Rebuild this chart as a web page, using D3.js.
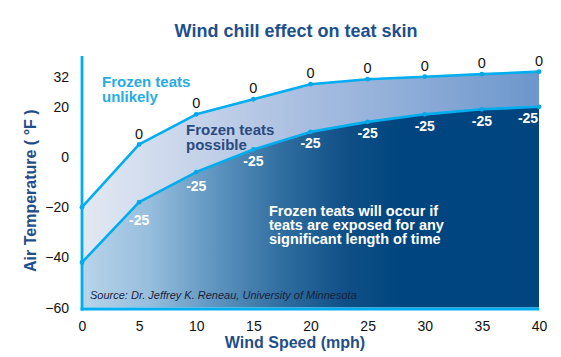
<!DOCTYPE html>
<html>
<head>
<meta charset="utf-8">
<script src="https://cdn.jsdelivr.net/npm/d3@7"></script>
<style>
  html, body { margin: 0; padding: 0; background: #fff; }
  svg { display: block; font-family: "Liberation Sans", Arial, Helvetica, sans-serif; }
</style>
</head>
<body>
<svg id="chart" width="561" height="357"></svg>
<script>
// ---- data ----
const windSpeed = [0, 5, 10, 15, 20, 25, 30, 35, 40];          // mph
const tempChill0 = [-20, 5, 17, 23, 29, 31, 32, 33, 34];       // air temp (°F) giving 0°F wind chill
const tempChill25 = [-42, -18, -6, 3, 10, 14, 17, 19, 20];     // air temp (°F) giving -25°F wind chill
const chillLabels = ["0", "-25"];
const xTicks = [0, 5, 10, 15, 20, 25, 30, 35, 40];
const yTicks = [32, 20, 0, -20, -40, -60];
const titleText = "Wind chill effect on teat skin";
const xTitle = "Wind Speed (mph)";
const yTitle = "Air Temperature ( °F )";
const zoneUnlikely = ["Frozen teats", "unlikely"];
const zonePossible = ["Frozen teats", "possible"];
const zoneOccur = ["Frozen teats will occur if", "teats are exposed for any", "significant length of time"];
const sourceText = "Source: Dr. Jeffrey K. Reneau, University of Minnesota";

// ---- layout ----
const svg = d3.select("#chart");
const x = d3.scaleLinear().domain([0, 40]).range([82, 539]);
const y = d3.scaleLinear().domain([-60, 40]).range([307.6, 56.6]);
const cyan = "#00aeef";

const data = windSpeed.map((w, i) => ({ w, hi: tempChill0[i], lo: tempChill25[i], i }));

// gradients
const defs = svg.append("defs");
const gLow = defs.append("linearGradient").attr("id", "gLow")
  .attr("gradientUnits", "userSpaceOnUse")
  .attr("x1", x(0)).attr("x2", x(40)).attr("y1", 0).attr("y2", 0);
[[0, "#b8d5ea"], [0.04, "#afcee6"], [0.147, "#97bedd"], [0.29, "#5f95c0"],
 [0.44, "#2f6d9f"], [0.58, "#0f4f86"], [0.70, "#00457f"], [1, "#00457f"]]
  .forEach(([o, c]) => gLow.append("stop").attr("offset", o).attr("stop-color", c));
const gBand = defs.append("linearGradient").attr("id", "gBand")
  .attr("gradientUnits", "userSpaceOnUse")
  .attr("x1", x(0)).attr("x2", x(40)).attr("y1", 0).attr("y2", 0);
[[0, "#e3e9f3"], [0.5, "#a7bde0"], [1, "#6c97cc"]]
  .forEach(([o, c]) => gBand.append("stop").attr("offset", o).attr("stop-color", c));

// areas
svg.append("path").datum(data)
  .attr("fill", "url(#gLow)")
  .attr("d", d3.area().x(d => x(d.w)).y0(y(-60)).y1(d => y(d.lo)));
svg.append("path").datum(data)
  .attr("fill", "url(#gBand)")
  .attr("d", d3.area().x(d => x(d.w)).y0(d => y(d.lo)).y1(d => y(d.hi)));

// lines
const lineHi = d3.line().x(d => x(d.w)).y(d => y(d.hi));
const lineLo = d3.line().x(d => x(d.w)).y(d => y(d.lo));
svg.append("path").datum(data).attr("fill", "none").attr("stroke", cyan)
  .attr("stroke-width", 2.6).attr("stroke-linejoin", "round").attr("d", lineHi);
svg.append("path").datum(data).attr("fill", "none").attr("stroke", cyan)
  .attr("stroke-width", 2.6).attr("stroke-linejoin", "round").attr("d", lineLo);

// points
svg.selectAll("circle.hi").data(data).join("circle")
  .attr("cx", d => x(d.w)).attr("cy", d => y(d.hi)).attr("r", 2.4).attr("fill", "#0aa6e6");
svg.selectAll("circle.lo").data(data, d => "lo" + d.i).enter().append("circle")
  .attr("cx", d => x(d.w)).attr("cy", d => y(d.lo)).attr("r", 2.4).attr("fill", "#0aa6e6");

// axes lines
svg.append("line").attr("x1", x(0)).attr("x2", x(0)).attr("y1", y(40) - 0.6).attr("y2", y(-60) + 2.9)
  .attr("stroke", cyan).attr("stroke-width", 2.8);
svg.append("line").attr("x1", x(0) - 1.4).attr("x2", x(40)).attr("y1", y(-60) + 1.4).attr("y2", y(-60) + 1.4)
  .attr("stroke", cyan).attr("stroke-width", 3);

// point labels
const labelData = data.filter(d => d.w > 0);
svg.selectAll("text.hiLab").data(labelData).join("text")
  .attr("x", d => x(d.w)).attr("y", d => y(d.hi) - 11).attr("dy", "0.35em")
  .attr("text-anchor", "middle").attr("font-size", 14.5).attr("fill", "#111")
  .text(chillLabels[0]);
const loOff = i => (i === 1 ? 18 : i === 2 ? 14 : 11.5);
svg.selectAll("text.loLab").data(labelData, d => "lo" + d.i).enter().append("text")
  .attr("x", d => x(d.w) - (d.i === windSpeed.length - 1 ? 11 : 0))
  .attr("y", d => y(d.lo) + loOff(d.i)).attr("dy", "0.35em")
  .attr("text-anchor", "middle").attr("font-size", 14).attr("font-weight", "bold").attr("fill", "#fff")
  .text(chillLabels[1]);

// tick axes
const yAxis = svg.append("g").attr("transform", `translate(${x(0)},0)`)
  .call(d3.axisLeft(y).tickValues(yTicks).tickSize(0).tickPadding(13).tickFormat(d3.format("d")));
yAxis.select(".domain").remove();
yAxis.selectAll("text").attr("font-size", 14).attr("fill", "#111")
  .attr("font-family", "Liberation Sans, Arial, sans-serif");
const xAxis = svg.append("g").attr("transform", `translate(0,${y(-60) + 1.4})`)
  .call(d3.axisBottom(x).tickValues(xTicks).tickSize(0).tickPadding(12).tickFormat(d3.format("d")));
xAxis.select(".domain").remove();
xAxis.selectAll("text").attr("font-size", 14).attr("fill", "#111")
  .attr("font-family", "Liberation Sans, Arial, sans-serif");

// titles
svg.append("text").attr("x", 296).attr("y", 37).attr("text-anchor", "middle")
  .attr("font-size", 18).attr("font-weight", "bold").attr("fill", "#1d4f8e").text(titleText);
svg.append("text").attr("x", 295).attr("y", 348).attr("text-anchor", "middle")
  .attr("font-size", 16).attr("font-weight", "bold").attr("fill", "#1f4e89").text(xTitle);
svg.append("text").attr("transform", "translate(36,190.7) rotate(-90)").attr("text-anchor", "middle")
  .attr("font-size", 16).attr("font-weight", "bold").attr("fill", "#1f4e89").text(yTitle);

// zone annotations
function multiline(lines, x0, y0, lh, size, color) {
  lines.forEach((l, i) => svg.append("text").attr("font-size", size).attr("font-weight", "bold")
    .attr("fill", color).attr("x", x0).attr("y", y0 + i * lh).text(l));
}
multiline(zoneUnlikely, 102, 86.5, 15.5, 15, "#29abe2");
multiline(zonePossible, 186, 134.5, 15.5, 15, "#2b4a80");
multiline(zoneOccur, 269, 215.5, 14.2, 14.5, "#ffffff");

// source
svg.append("text").attr("x", 90).attr("y", 299).attr("font-size", 11).attr("font-style", "italic")
  .attr("fill", "#1a1f3d").text(sourceText);
</script>
</body>
</html>
